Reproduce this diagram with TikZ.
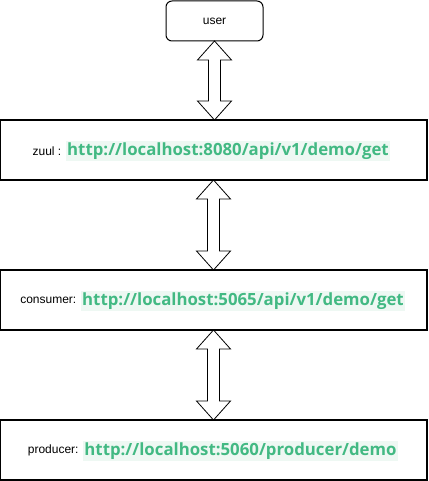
\documentclass[tikz,border=0pt]{standalone}
\usepackage{fontspec}
\setmainfont{Liberation Sans}
\newfontfamily\urlfont{Open Sans}
\usetikzlibrary{positioning,calc}
\definecolor{urlgreen}{HTML}{42B983}
\definecolor{urlback}{HTML}{EEF8F3}
\tikzset{service/.style={draw=black, line width=1.2pt, minimum width=427pt, minimum height=60pt, inner sep=0pt, outer sep=0pt},
client/.style={draw=black, line width=1pt, rounded corners=6pt, minimum width=97pt, minimum height=40pt, inner sep=0pt, outer sep=0pt, font=\fontsize{12}{14}\selectfont},
link/.style={fill=urlback, text=urlgreen, font=\urlfont\bfseries\fontsize{16.8}{18}\selectfont, inner xsep=1.5pt, inner ysep=0pt, minimum height=20pt},
caption/.style={font=\fontsize{12}{14}\selectfont, inner sep=0pt}}
\newcommand*{\biarrow}[2]{% from,to
	\draw[line width=0.8pt, line join=miter] let \p1=(#1.south), \p2=(#2.north) in
		(\x1,\y1) -- (\x1+17pt,\y1-19pt) -- (\x1+6pt,\y1-19pt) -- (\x1+6pt,\y2+19pt)
		-- (\x1+17pt,\y2+19pt) -- (\x1,\y2) -- (\x1-17pt,\y2+19pt) -- (\x1-6pt,\y2+19pt)
		-- (\x1-6pt,\y1-19pt) -- (\x1-17pt,\y1-19pt) -- cycle;
}

\begin{document}
\begin{tikzpicture}[x=1pt,y=1pt]
		\useasboundingbox (0,0) rectangle (428,-481);
		\node[client] (user) at (214.5,-21) {user};
		\node[service] (zuul) at (213.5,-150) {};
		\node[service] (consumer) at (213.5,-300) {};
		\node[service] (producer) at (213.5,-450) {};
		% urls
		\node[link] (zuulurl) at (228,-151) {http://localhost:8080/api/v1/demo/get};
		\node[caption,left=4pt of zuulurl] (zuulname) {zuul :};
		\node[link] (consumerurl) at (243,-300.7) {http://localhost:5065/api/v1/demo/get};
		\node[caption,left=4pt of consumerurl] (consumername) {consumer:};
		\node[link] (producerurl) at (240.5,-450.7) {http://localhost:5060/producer/demo};
		\node[caption,left=4pt of producerurl] (producername) {producer:};
		% arrows
		\biarrow{user}{zuul}
		\biarrow{zuul}{consumer}
		\biarrow{consumer}{producer}
	\end{tikzpicture}
\end{document}
